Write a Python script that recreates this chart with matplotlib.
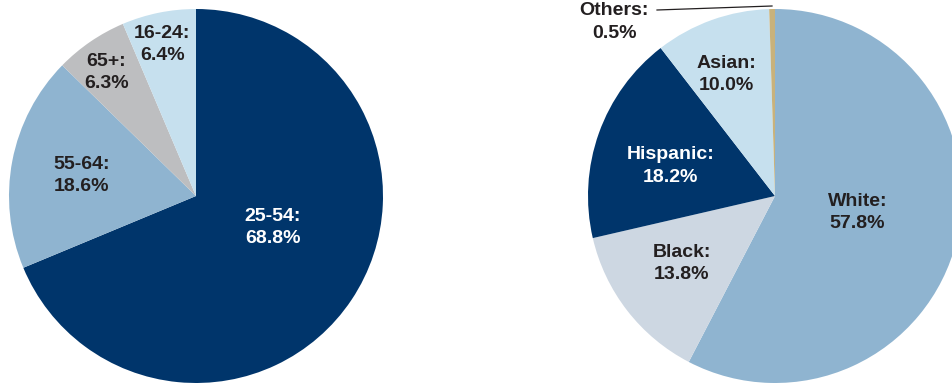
import matplotlib.pyplot as plt

# Age groups (left pie)
age_labels = ['25-54', '55-64', '65+', '16-24']
age_values = [68.8, 18.6, 6.3, 6.4]
age_colors = ['#00356b', '#8fb4d0', '#bdbec0', '#c6e0ee']
age_text = ['white', '#231f20', '#231f20', '#231f20']
age_offsets = [(0.41, -0.17), (-0.61, 0.11), (-0.48, 0.66), (-0.18, 0.81)]

# Race / ethnicity (right pie)
race_labels = ['White', 'Black', 'Hispanic', 'Asian', 'Others']
race_values = [57.8, 13.8, 18.2, 10.0, 0.5]
race_colors = ['#8fb4d0', '#cdd7e2', '#00356b', '#c6e0ee', '#c8b27c']
race_text = ['#231f20', '#231f20', 'white', '#231f20', '#231f20']
race_offsets = [(0.44, -0.09), (-0.50, -0.36), (-0.56, 0.16), (-0.26, 0.65), (-0.86, 0.93)]

W, H = 953, 383
R = 187
left_c = (196, H - 196)
right_c = (775, H - 196)

fig = plt.figure(figsize=(W / 100, H / 100), dpi=100)
ax = fig.add_axes([0, 0, 1, 1])

font = dict(family=['Liberation Sans', 'DejaVu Sans'], fontsize=14, fontweight='bold',
            ha='center', va='center', linespacing=1.4)


def draw_pie(center, values, colors, labels, offsets, text_colors):
    wedges, _ = ax.pie(values, colors=colors, startangle=90, counterclock=False,
                       center=center, radius=R, frame=True,
                       wedgeprops=dict(linewidth=0))
    for lab, val, (dx, dy), tc in zip(labels, values, offsets, text_colors):
        ax.text(center[0] + dx * R, center[1] + dy * R, f'{lab}:\n{val:.1f}%',
                color=tc, **font)
    return wedges


draw_pie(left_c, age_values, age_colors, age_labels, age_offsets, age_text)
draw_pie(right_c, race_values, race_colors, race_labels, race_offsets, race_text)

# leader line for the tiny "Others" slice
ax.plot([657, right_c[0] - 3], [H - 10, H - 6], color='#231f20', lw=0.9)

ax.set_xlim(0, W)
ax.set_ylim(0, H)
ax.set_aspect('equal')
ax.axis('off')

plt.savefig('out.png', dpi=100)
